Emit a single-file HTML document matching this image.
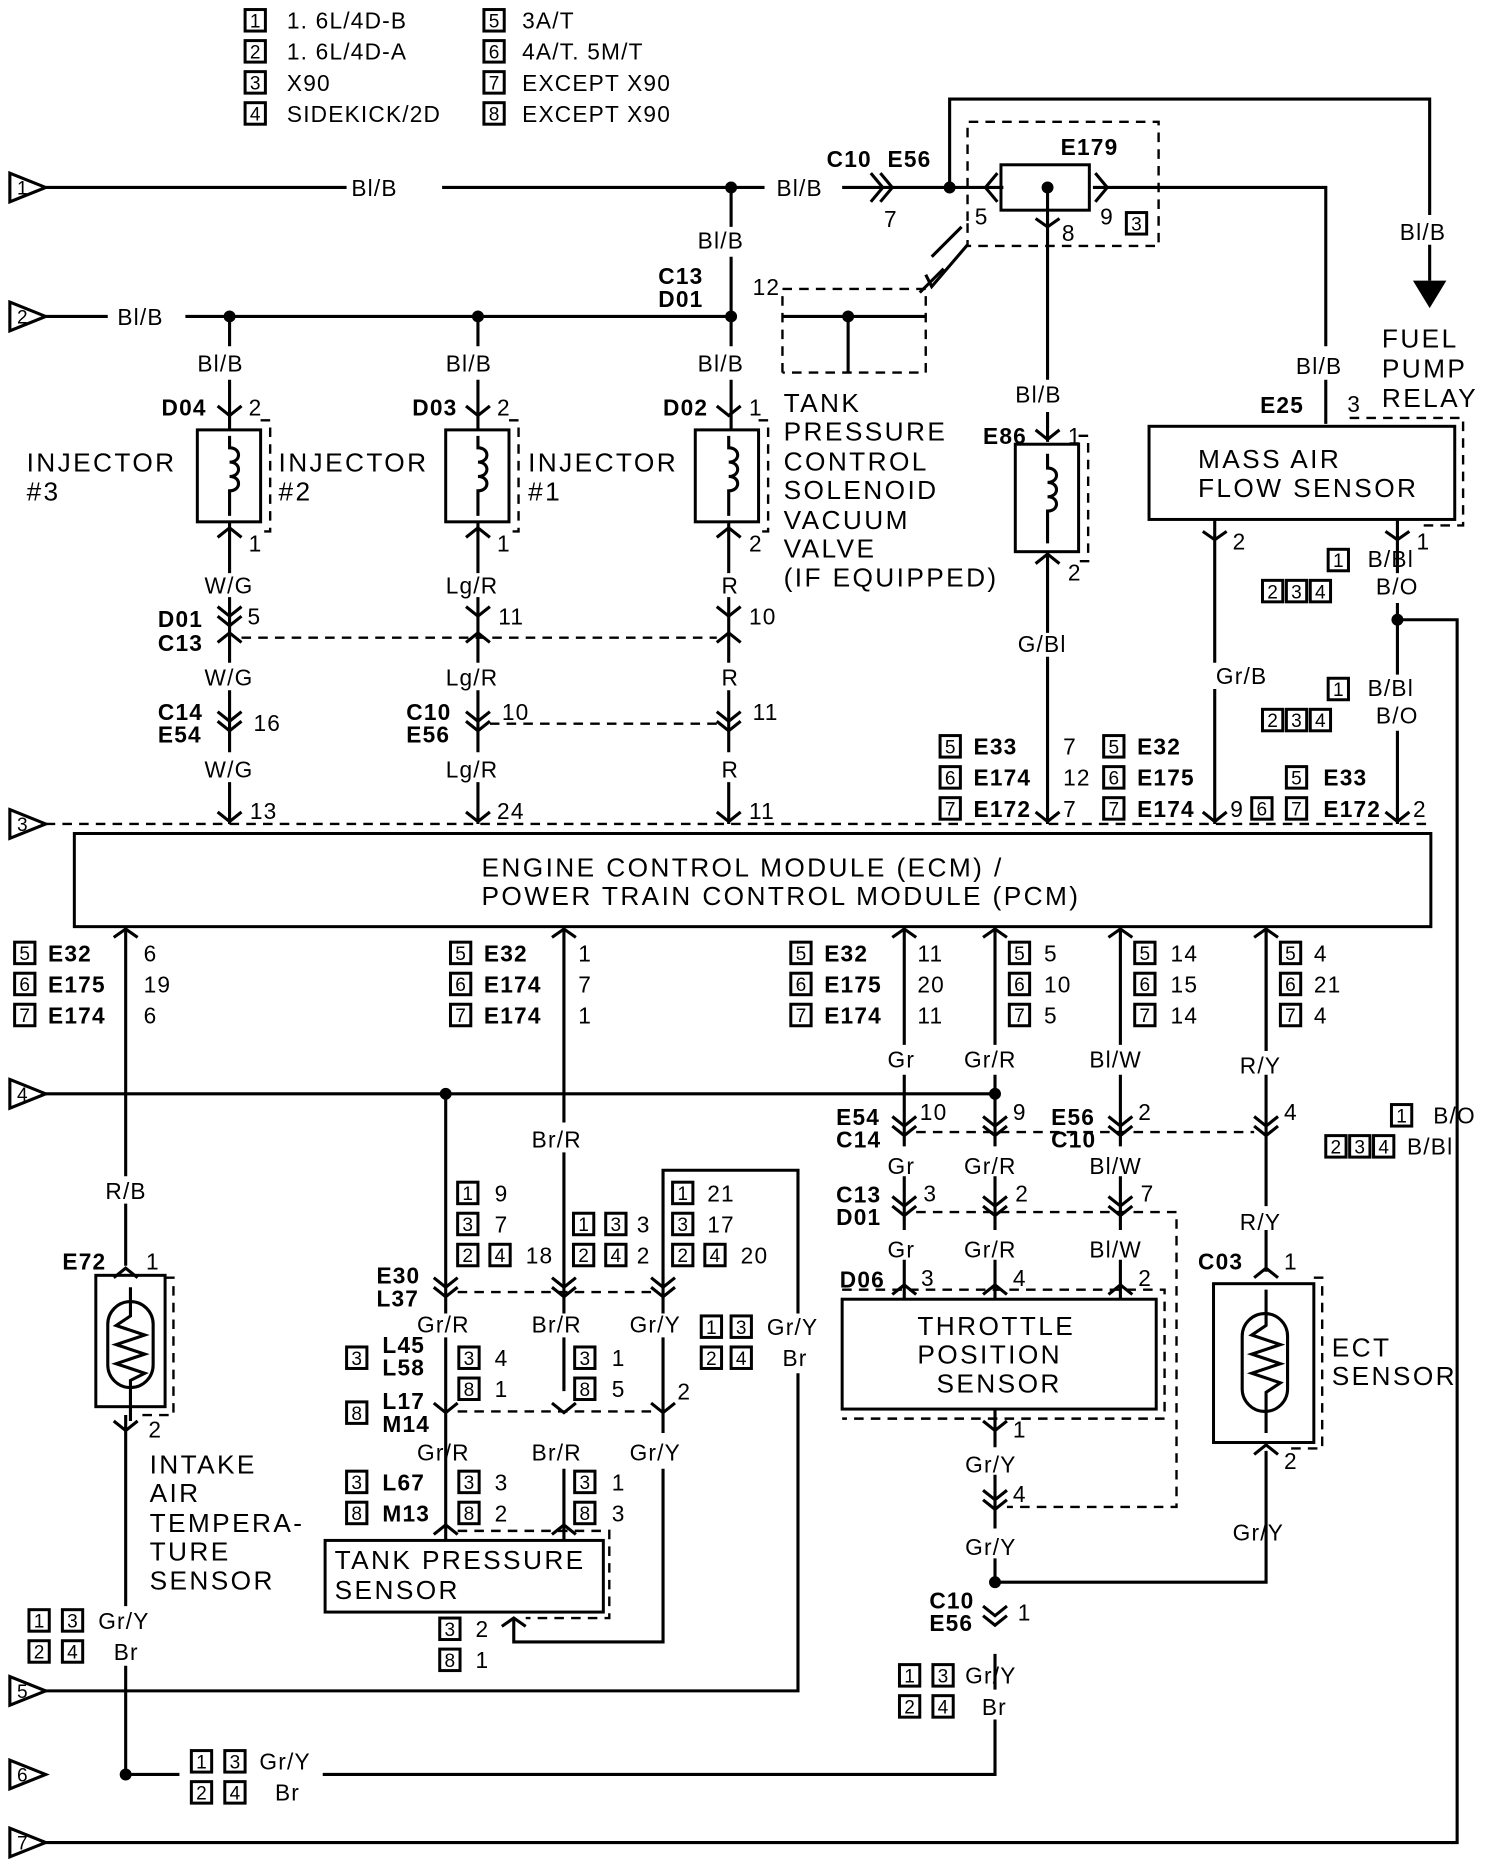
<!DOCTYPE html>
<html><head><meta charset="utf-8"><style>
html,body{margin:0;padding:0;background:#fff}
svg{display:block}
text{font-family:"Liberation Sans",sans-serif;font-size:19px;fill:#000;letter-spacing:1px}
.b{font-weight:bold;letter-spacing:0}
.l{font-size:22px;letter-spacing:2px}
.w{stroke:#000;stroke-width:2.6;fill:none}
.d{stroke:#000;stroke-width:2;fill:none;stroke-dasharray:8 6}
.bx{stroke:#000;stroke-width:2.5;fill:none}
.n{font-size:16px;letter-spacing:0}
</style></head><body>
<svg width="1504" height="1870" viewBox="0 0 1259 1566" xmlns="http://www.w3.org/2000/svg">
<!-- legend -->
<g>
<rect class="bx" x="205" y="8" width="17" height="18"/><text x="209" y="23" class="n">1</text><text x="240" y="24">1. 6L/4D-B</text>
<rect class="bx" x="205" y="34" width="17" height="18"/><text x="209" y="49" class="n">2</text><text x="240" y="50">1. 6L/4D-A</text>
<rect class="bx" x="205" y="60" width="17" height="18"/><text x="209" y="75" class="n">3</text><text x="240" y="76">X90</text>
<rect class="bx" x="205" y="86" width="17" height="18"/><text x="209" y="101" class="n">4</text><text x="240" y="102">SIDEKICK/2D</text>
<rect class="bx" x="405" y="8" width="17" height="18"/><text x="409" y="23" class="n">5</text><text x="437" y="24">3A/T</text>
<rect class="bx" x="405" y="34" width="17" height="18"/><text x="409" y="49" class="n">6</text><text x="437" y="50">4A/T. 5M/T</text>
<rect class="bx" x="405" y="60" width="17" height="18"/><text x="409" y="75" class="n">7</text><text x="437" y="76">EXCEPT X90</text>
<rect class="bx" x="405" y="86" width="17" height="18"/><text x="409" y="101" class="n">8</text><text x="437" y="102">EXCEPT X90</text>
</g>
<!-- triangles -->
<g class="w">
<path d="M8 145 L38 157 L8 169 Z"/><path d="M8 253 L38 265 L8 277 Z"/><path d="M8 678 L38 690 L8 702 Z"/><path d="M8 904 L38 916 L8 928 Z"/><path d="M8 1404 L38 1416 L8 1428 Z"/><path d="M8 1474 L38 1486 L8 1498 Z"/><path d="M8 1531 L38 1543 L8 1555 Z"/>
</g>
<g font-size="16"><text x="14" y="163" class="n">1</text><text x="14" y="271" class="n">2</text><text x="14" y="696" class="n">3</text><text x="14" y="922" class="n">4</text><text x="14" y="1422" class="n">5</text><text x="14" y="1492" class="n">6</text><text x="14" y="1549" class="n">7</text></g>
<!-- wires top -->
<g class="w">
<path d="M38 157 H290 M370 157 H640 M705 157 H840 M915 157 H1110 V290 M1110 318 V355"/>
<path d="M795 157 V83 H1197 V180 M1197 205 V235"/>
<path d="M38 265 H90 M155 265 H612"/>
<path d="M612 157 V190 M612 215 V290 M612 318 V360"/>
<path d="M192 265 V290 M192 318 V360 M400 265 V290 M400 318 V360"/>
<path d="M192 437 V480 M192 500 V555 M192 578 V630 M192 655 V690"/>
<path d="M400 437 V480 M400 500 V555 M400 578 V630 M400 655 V690"/>
<path d="M610 437 V480 M610 500 V555 M610 578 V630 M610 655 V690"/>
<path d="M877 157 V318 M877 345 V370 M877 462 V530 M877 550 V690"/>
<path d="M1017 435 V555 M1017 577 V690"/>
<path d="M1170 435 V480 M1170 505 V565 M1170 612 V690 M1170 519 H1220 V1543 H38"/>
<path d="M710 265 V312 M655 265 H775"/>
</g>
<path d="M1183 235 H1211 L1197 258 Z" fill="#000"/>
<g fill="#000"><circle cx="612" cy="157" r="5"/><circle cx="795" cy="157" r="5"/><circle cx="877" cy="157" r="5"/><circle cx="192" cy="265" r="5"/><circle cx="400" cy="265" r="5"/><circle cx="612" cy="265" r="5"/><circle cx="710" cy="265" r="5"/><circle cx="1170" cy="519" r="5"/><circle cx="373" cy="916" r="5"/><circle cx="833" cy="916" r="5"/><circle cx="833" cy="1325" r="5"/><circle cx="105" cy="1486" r="5"/></g>
<!-- E179 -->
<rect class="bx" x="838" y="138" width="74" height="38"/>
<path class="d" d="M810 185 V102 H970 V206 H810 V185"/>
<path class="d" d="M655 312 V242 H775 V312 H655"/>
<path class="w" d="M805 190 L780 215 M790 225 L770 245 M775 230 L780 240 L810 205"/>
<path class="w" d="M737 145 L747 157 L737 169 M729 145 L739 157 L729 169 M835 145 L825 157 L835 169 M917 145 L927 157 L917 169 M867 183 L877 190 L887 183"/>
<rect class="bx" x="943" y="178" width="17" height="18"/><text x="947" y="193" class="n">3</text>
<g class="b"><text x="692" y="140">C10</text><text x="743" y="140">E56</text><text x="888" y="130">E179</text>
<text x="551" y="238">C13</text><text x="551" y="257">D01</text><text x="135" y="348">D04</text><text x="345" y="348">D03</text><text x="555" y="348">D02</text><text x="823" y="372">E86</text><text x="1055" y="346">E25</text>
<text x="132" y="525">D01</text><text x="132" y="545">C13</text><text x="132" y="603">C14</text><text x="132" y="622">E54</text><text x="340" y="603">C10</text><text x="340" y="622">E56</text></g>
<text x="294" y="164">Bl/B</text><text x="650" y="164">Bl/B</text><text x="740" y="190">7</text><text x="816" y="188">5</text><text x="889" y="202">8</text><text x="921" y="188">9</text>
<text x="584" y="208">Bl/B</text><text x="630" y="247">12</text><text x="98" y="272">Bl/B</text>
<text x="165" y="311">Bl/B</text><text x="373" y="311">Bl/B</text><text x="584" y="311">Bl/B</text><text x="850" y="337">Bl/B</text><text x="1085" y="313">Bl/B</text><text x="1172" y="201">Bl/B</text>
<text x="1157" y="291" class="l">FUEL</text><text x="1157" y="316" class="l">PUMP</text><text x="1157" y="341" class="l">RELAY</text>
<!-- injectors -->
<g class="w"><path d="M182 340 L192 348 L202 340 M182 450 L192 442 L202 450 M390 340 L400 348 L410 340 M390 450 L400 442 L410 450 M600 340 L610 348 L620 340 M600 450 L610 442 L620 450 M867 360 L877 368 L887 360 M867 472 L877 464 L887 472"/></g>
<rect class="bx" x="165" y="360" width="53" height="77"/><rect class="bx" x="373" y="360" width="53" height="77"/><rect class="bx" x="582" y="360" width="53" height="77"/><rect class="bx" x="850" y="372" width="53" height="90"/>
<path class="d" d="M218 352 H226 V445 H218 M426 352 H434 V445 H426 M635 352 H643 V445 H635 M903 365 H911 V470 H903"/>
<g class="w"><path d="M192 365 V375 c10 0 10 12 0 12 c10 0 10 12 0 12 c10 0 10 12 0 12 V432"/><path d="M400 365 V375 c10 0 10 12 0 12 c10 0 10 12 0 12 c10 0 10 12 0 12 V432"/><path d="M610 365 V375 c10 0 10 12 0 12 c10 0 10 12 0 12 c10 0 10 12 0 12 V432"/><path d="M877 380 V392 c10 0 10 12 0 12 c10 0 10 12 0 12 c10 0 10 12 0 12 V455"/></g>
<text x="208" y="348">2</text><text x="416" y="348">2</text><text x="627" y="348">1</text><text x="894" y="372">1</text>
<text x="208" y="462">1</text><text x="416" y="462">1</text><text x="627" y="462">2</text><text x="894" y="486">2</text>
<text x="22" y="395" class="l">INJECTOR</text><text x="22" y="419" class="l">#3</text><text x="233" y="395" class="l">INJECTOR</text><text x="233" y="419" class="l">#2</text><text x="442" y="395" class="l">INJECTOR</text><text x="442" y="419" class="l">#1</text>
<text x="656" y="345" class="l">TANK</text><text x="656" y="369" class="l">PRESSURE</text><text x="656" y="394" class="l">CONTROL</text><text x="656" y="418" class="l">SOLENOID</text><text x="656" y="443" class="l">VACUUM</text><text x="656" y="467" class="l">VALVE</text><text x="656" y="491" class="l">(IF EQUIPPED)</text>
<!-- MAF -->
<rect class="bx" x="962" y="357" width="256" height="78"/>
<path class="d" d="M1130 350 H1225 V440 H1190"/>
<text x="1003" y="392" class="l">MASS AIR</text><text x="1003" y="416" class="l">FLOW SENSOR</text>
<text x="1128" y="345">3</text><text x="1032" y="460">2</text><text x="1186" y="460">1</text>
<path class="w" d="M1007 445 L1017 452 L1027 445 M1160 445 L1170 452 L1180 445"/>
<rect class="bx" x="1112" y="460" width="17" height="18"/><text x="1116" y="475" class="n">1</text><text x="1145" y="475">B/Bl</text>
<rect class="bx" x="1057" y="486" width="17" height="18"/><rect class="bx" x="1077" y="486" width="17" height="18"/><rect class="bx" x="1097" y="486" width="17" height="18"/><text x="1061" y="501" class="n">2</text><text x="1081" y="501" class="n">3</text><text x="1101" y="501" class="n">4</text><text x="1152" y="498">B/O</text>
<rect class="bx" x="1112" y="568" width="17" height="18"/><text x="1116" y="583" class="n">1</text><text x="1145" y="583">B/Bl</text>
<rect class="bx" x="1057" y="594" width="17" height="18"/><rect class="bx" x="1077" y="594" width="17" height="18"/><rect class="bx" x="1097" y="594" width="17" height="18"/><text x="1061" y="609" class="n">2</text><text x="1081" y="609" class="n">3</text><text x="1101" y="609" class="n">4</text><text x="1152" y="606">B/O</text>
<text x="1018" y="573">Gr/B</text>
<!-- connectors mid -->
<g class="w"><path d="M182 508 L192 516 L202 508 M182 516 L192 524 L202 516 M182 538 L192 530 L202 538 M390 508 L400 516 L410 508 M390 538 L400 530 L410 538 M600 508 L610 516 L620 508 M600 538 L610 530 L620 538 M182 596 L192 604 L202 596 M182 604 L192 612 L202 604 M390 596 L400 604 L410 596 M390 604 L400 612 L410 604 M600 596 L610 604 L620 596 M600 604 L610 612 L620 604 M182 680 L192 688 L202 680 M390 680 L400 688 L410 680 M600 680 L610 688 L620 680 M867 680 L877 688 L887 680 M1007 680 L1017 688 L1027 680 M1160 680 L1170 688 L1180 680"/></g>
<path class="d" d="M202 534 H600 M410 606 H600"/>
<text x="171" y="497">W/G</text><text x="373" y="497">Lg/R</text><text x="604" y="497">R</text><text x="207" y="523">5</text><text x="417" y="523">11</text><text x="627" y="523">10</text><text x="852" y="546">G/Bl</text>
<text x="171" y="574">W/G</text><text x="373" y="574">Lg/R</text><text x="604" y="574">R</text><text x="212" y="612">16</text><text x="420" y="603">10</text><text x="630" y="603">11</text>
<text x="171" y="651">W/G</text><text x="373" y="651">Lg/R</text><text x="604" y="651">R</text><text x="209" y="686">13</text><text x="416" y="686">24</text><text x="627" y="686">11</text>
<path class="d" d="M38 690 H1200"/>
<!-- ECM pin labels top -->
<g class="b"><text x="815" y="632">E33</text><text x="815" y="658">E174</text><text x="815" y="684">E172</text><text x="952" y="632">E32</text><text x="952" y="658">E175</text><text x="952" y="684">E174</text><text x="1108" y="658">E33</text><text x="1108" y="684">E172</text></g>
<rect class="bx" x="787" y="616" width="17" height="18"/><text x="791" y="631" class="n">5</text><rect class="bx" x="787" y="642" width="17" height="18"/><text x="791" y="657" class="n">6</text><rect class="bx" x="787" y="668" width="17" height="18"/><text x="791" y="683" class="n">7</text>
<rect class="bx" x="924" y="616" width="17" height="18"/><text x="928" y="631" class="n">5</text><rect class="bx" x="924" y="642" width="17" height="18"/><text x="928" y="657" class="n">6</text><rect class="bx" x="924" y="668" width="17" height="18"/><text x="928" y="683" class="n">7</text>
<rect class="bx" x="1077" y="642" width="17" height="18"/><text x="1081" y="657" class="n">5</text><rect class="bx" x="1048" y="668" width="17" height="18"/><text x="1052" y="683" class="n">6</text><rect class="bx" x="1077" y="668" width="17" height="18"/><text x="1081" y="683" class="n">7</text>
<text x="890" y="632">7</text><text x="890" y="658">12</text><text x="890" y="684">7</text><text x="1030" y="684">9</text><text x="1183" y="684">2</text>
<!-- ECM -->
<rect class="bx" x="62" y="698" width="1136" height="78"/>
<text x="403" y="734" class="l">ENGINE CONTROL MODULE (ECM) /</text><text x="403" y="758" class="l">POWER TRAIN CONTROL MODULE (PCM)</text>
<!-- bottom wires -->
<g class="w">
<path d="M105 776 V985 M105 1008 V1060 M105 1185 V1345 M105 1395 V1486 H150 M270 1486 H833 V1440 M833 1415 V1385 M833 1325 V1305 M833 1280 V1235 M833 1212 V1180"/>
<path d="M833 1325 H1060 V1215 M1060 1065 V1030 M1060 1010 V900 M1060 776 V880"/>
<path d="M38 916 H833"/>
<path d="M472 776 V940 M472 965 V1100 M472 1120 V1165 M472 1230 V1290"/>
<path d="M373 916 V1100 M373 1120 V1290"/>
<path d="M555 1100 V980 H668 V1100 M668 1150 V1416 H38"/>
<path d="M555 1120 V1200 M555 1230 V1375 H430 V1355"/>
<path d="M757 776 V875 M757 900 V960 M757 985 V1030 M757 1055 V1088"/>
<path d="M833 776 V875 M833 900 V960 M833 985 V1030 M833 1055 V1088"/>
<path d="M938 776 V875 M938 900 V960 M938 985 V1030 M938 1055 V1088"/>
<path d="M1060 776 V880"/>
</g>
<g class="w"><path d="M95 785 L105 778 L115 785 M462 785 L472 778 L482 785 M747 785 L757 778 L767 785 M823 785 L833 778 L843 785 M928 785 L938 778 L948 785 M1050 785 L1060 778 L1070 785
M747 935 L757 943 L767 935 M747 943 L757 951 L767 943 M823 935 L833 943 L843 935 M823 943 L833 951 L843 943 M928 935 L938 943 L948 935 M928 943 L938 951 L948 943 M1050 935 L1060 943 L1070 935 M1050 943 L1060 951 L1070 943
M747 1002 L757 1010 L767 1002 M747 1010 L757 1018 L767 1010 M823 1002 L833 1010 L843 1002 M823 1010 L833 1018 L843 1010 M928 1002 L938 1010 L948 1002 M928 1010 L938 1018 L948 1010
M747 1084 L757 1076 L767 1084 M823 1084 L833 1076 L843 1084 M928 1084 L938 1076 L948 1084
M823 1190 L833 1198 L843 1190 M823 1248 L833 1256 L843 1248 M823 1256 L833 1264 L843 1256 M823 1345 L833 1353 L843 1345 M823 1353 L833 1361 L843 1353
M95 1070 L105 1062 L115 1070 M95 1190 L105 1198 L115 1190 M1050 1070 L1060 1062 L1070 1070 M1050 1218 L1060 1210 L1070 1218
M363 1070 L373 1078 L383 1070 M363 1078 L373 1086 L383 1078 M462 1070 L472 1078 L482 1070 M462 1078 L472 1086 L482 1078 M545 1070 L555 1078 L565 1070 M545 1078 L555 1086 L565 1078
M363 1175 L373 1183 L383 1175 M462 1175 L472 1183 L482 1175 M545 1175 L555 1183 L565 1175
M363 1285 L373 1277 L383 1285 M462 1285 L472 1277 L482 1285 M420 1362 L430 1355 L440 1362"/></g>
<path class="d" d="M767 948 H1050 M767 1015 H985 V1262 H843 M383 1082 H545 M383 1182 H545 M383 1282 H510 V1355 H440"/>
<!-- bottom pin labels -->
<g class="b"><text x="40" y="805">E32</text><text x="40" y="831">E175</text><text x="40" y="857">E174</text><text x="405" y="805">E32</text><text x="405" y="831">E174</text><text x="405" y="857">E174</text><text x="690" y="805">E32</text><text x="690" y="831">E175</text><text x="690" y="857">E174</text></g>
<rect class="bx" x="12" y="789" width="17" height="18"/><text x="16" y="804" class="n">5</text><rect class="bx" x="12" y="815" width="17" height="18"/><text x="16" y="830" class="n">6</text><rect class="bx" x="12" y="841" width="17" height="18"/><text x="16" y="856" class="n">7</text>
<rect class="bx" x="377" y="789" width="17" height="18"/><text x="381" y="804" class="n">5</text><rect class="bx" x="377" y="815" width="17" height="18"/><text x="381" y="830" class="n">6</text><rect class="bx" x="377" y="841" width="17" height="18"/><text x="381" y="856" class="n">7</text>
<rect class="bx" x="662" y="789" width="17" height="18"/><text x="666" y="804" class="n">5</text><rect class="bx" x="662" y="815" width="17" height="18"/><text x="666" y="830" class="n">6</text><rect class="bx" x="662" y="841" width="17" height="18"/><text x="666" y="856" class="n">7</text>
<rect class="bx" x="845" y="789" width="17" height="18"/><text x="849" y="804" class="n">5</text><rect class="bx" x="845" y="815" width="17" height="18"/><text x="849" y="830" class="n">6</text><rect class="bx" x="845" y="841" width="17" height="18"/><text x="849" y="856" class="n">7</text>
<rect class="bx" x="950" y="789" width="17" height="18"/><text x="954" y="804" class="n">5</text><rect class="bx" x="950" y="815" width="17" height="18"/><text x="954" y="830" class="n">6</text><rect class="bx" x="950" y="841" width="17" height="18"/><text x="954" y="856" class="n">7</text>
<rect class="bx" x="1072" y="789" width="17" height="18"/><text x="1076" y="804" class="n">5</text><rect class="bx" x="1072" y="815" width="17" height="18"/><text x="1076" y="830" class="n">6</text><rect class="bx" x="1072" y="841" width="17" height="18"/><text x="1076" y="856" class="n">7</text>
<text x="120" y="805">6</text><text x="120" y="831">19</text><text x="120" y="857">6</text><text x="484" y="805">1</text><text x="484" y="831">7</text><text x="484" y="857">1</text>
<text x="768" y="805">11</text><text x="768" y="831">20</text><text x="768" y="857">11</text><text x="874" y="805">5</text><text x="874" y="831">10</text><text x="874" y="857">5</text>
<text x="980" y="805">14</text><text x="980" y="831">15</text><text x="980" y="857">14</text><text x="1100" y="805">4</text><text x="1100" y="831">21</text><text x="1100" y="857">4</text>
<text x="743" y="894">Gr</text><text x="807" y="894">Gr/R</text><text x="912" y="894">Bl/W</text><text x="1038" y="899">R/Y</text>
<g class="b"><text x="700" y="942">E54</text><text x="700" y="961">C14</text><text x="880" y="942">E56</text><text x="880" y="961">C10</text><text x="700" y="1007">C13</text><text x="700" y="1026">D01</text><text x="703" y="1078">D06</text><text x="1003" y="1063">C03</text><text x="52" y="1063">E72</text>
<text x="315" y="1075">E30</text><text x="315" y="1094">L37</text><text x="320" y="1133">L45</text><text x="320" y="1152">L58</text><text x="320" y="1180">L17</text><text x="320" y="1199">M14</text><text x="320" y="1248">L67</text><text x="320" y="1274">M13</text>
<text x="778" y="1347">C10</text><text x="778" y="1366">E56</text></g>
<text x="770" y="938">10</text><text x="848" y="938">9</text><text x="953" y="938">2</text><text x="1075" y="938">4</text>
<text x="743" y="983">Gr</text><text x="807" y="983">Gr/R</text><text x="912" y="983">Bl/W</text><text x="1038" y="1030">R/Y</text>
<text x="773" y="1006">3</text><text x="850" y="1006">2</text><text x="955" y="1006">7</text>
<text x="743" y="1053">Gr</text><text x="807" y="1053">Gr/R</text><text x="912" y="1053">Bl/W</text>
<text x="771" y="1077">3</text><text x="848" y="1077">4</text><text x="953" y="1077">2</text><text x="1075" y="1063">1</text><text x="122" y="1063">1</text>
<rect class="bx" x="705" y="1088" width="263" height="92"/><path class="d" d="M705 1080 H975 V1188 H705"/>
<text x="768" y="1118" class="l">THROTTLE</text><text x="768" y="1142" class="l">POSITION</text><text x="784" y="1166" class="l">SENSOR</text>
<text x="848" y="1204">1</text><text x="808" y="1233">Gr/Y</text><text x="848" y="1258">4</text><text x="808" y="1302">Gr/Y</text><text x="852" y="1357">1</text>
<rect class="bx" x="1016" y="1075" width="84" height="133"/><path class="d" d="M1100 1070 H1107 V1213 H1075"/>
<rect x="1040" y="1100" width="38" height="82" rx="19" class="w"/><path class="w" d="M1060 1080 V1110 L1048 1118 L1072 1126 L1048 1134 L1072 1142 L1048 1150 L1072 1158 L1060 1166 V1200"/>
<text x="1115" y="1136" class="l">ECT</text><text x="1115" y="1160" class="l">SENSOR</text><text x="1075" y="1230">2</text><text x="1032" y="1290">Gr/Y</text>
<rect class="bx" x="80" y="1068" width="58" height="110"/><path class="d" d="M138 1070 H145 V1185 H115"/>
<rect x="90" y="1090" width="38" height="72" rx="19" class="w"/><path class="w" d="M109 1078 V1102 L97 1110 L121 1118 L97 1126 L121 1134 L97 1142 L121 1150 L109 1156 V1190"/>
<text x="124" y="1204">2</text><text x="88" y="1004">R/B</text><text x="445" y="961">Br/R</text>
<text x="125" y="1234" class="l">INTAKE</text><text x="125" y="1258" class="l">AIR</text><text x="125" y="1283" class="l">TEMPERA-</text><text x="125" y="1307" class="l">TURE</text><text x="125" y="1331" class="l">SENSOR</text>
<!-- tank pressure area labels -->
<rect class="bx" x="383" y="990" width="17" height="18"/><text x="387" y="1005" class="n">1</text><text x="414" y="1006">9</text>
<rect class="bx" x="383" y="1016" width="17" height="18"/><text x="387" y="1031" class="n">3</text><text x="414" y="1032">7</text>
<rect class="bx" x="383" y="1042" width="17" height="18"/><text x="387" y="1057" class="n">2</text><rect class="bx" x="410" y="1042" width="17" height="18"/><text x="414" y="1057" class="n">4</text><text x="440" y="1058">18</text>
<rect class="bx" x="480" y="1016" width="17" height="18"/><text x="484" y="1031" class="n">1</text><rect class="bx" x="507" y="1016" width="17" height="18"/><text x="511" y="1031" class="n">3</text><text x="533" y="1032">3</text>
<rect class="bx" x="480" y="1042" width="17" height="18"/><text x="484" y="1057" class="n">2</text><rect class="bx" x="507" y="1042" width="17" height="18"/><text x="511" y="1057" class="n">4</text><text x="533" y="1058">2</text>
<rect class="bx" x="563" y="990" width="17" height="18"/><text x="567" y="1005" class="n">1</text><text x="592" y="1006">21</text>
<rect class="bx" x="563" y="1016" width="17" height="18"/><text x="567" y="1031" class="n">3</text><text x="592" y="1032">17</text>
<rect class="bx" x="563" y="1042" width="17" height="18"/><text x="567" y="1057" class="n">2</text><rect class="bx" x="590" y="1042" width="17" height="18"/><text x="594" y="1057" class="n">4</text><text x="620" y="1058">20</text>
<text x="349" y="1116">Gr/R</text><text x="445" y="1116">Br/R</text><text x="527" y="1116">Gr/Y</text>
<rect class="bx" x="587" y="1102" width="17" height="18"/><text x="591" y="1117" class="n">1</text><rect class="bx" x="612" y="1102" width="17" height="18"/><text x="616" y="1117" class="n">3</text><text x="642" y="1118">Gr/Y</text>
<rect class="bx" x="587" y="1128" width="17" height="18"/><text x="591" y="1143" class="n">2</text><rect class="bx" x="612" y="1128" width="17" height="18"/><text x="616" y="1143" class="n">4</text><text x="655" y="1144">Br</text>
<rect class="bx" x="290" y="1128" width="17" height="18"/><text x="294" y="1143" class="n">3</text>
<rect class="bx" x="384" y="1128" width="17" height="18"/><text x="388" y="1143" class="n">3</text><text x="414" y="1144">4</text>
<rect class="bx" x="384" y="1154" width="17" height="18"/><text x="388" y="1169" class="n">8</text><text x="414" y="1170">1</text>
<rect class="bx" x="481" y="1128" width="17" height="18"/><text x="485" y="1143" class="n">3</text><text x="512" y="1144">1</text>
<rect class="bx" x="481" y="1154" width="17" height="18"/><text x="485" y="1169" class="n">8</text><text x="512" y="1170">5</text>
<text x="567" y="1172">2</text>
<rect class="bx" x="290" y="1174" width="17" height="18"/><text x="294" y="1189" class="n">8</text>
<text x="349" y="1223">Gr/R</text><text x="445" y="1223">Br/R</text><text x="527" y="1223">Gr/Y</text>
<rect class="bx" x="290" y="1232" width="17" height="18"/><text x="294" y="1247" class="n">3</text><rect class="bx" x="290" y="1258" width="17" height="18"/><text x="294" y="1273" class="n">8</text>
<rect class="bx" x="384" y="1232" width="17" height="18"/><text x="388" y="1247" class="n">3</text><text x="414" y="1248">3</text>
<rect class="bx" x="384" y="1258" width="17" height="18"/><text x="388" y="1273" class="n">8</text><text x="414" y="1274">2</text>
<rect class="bx" x="481" y="1232" width="17" height="18"/><text x="485" y="1247" class="n">3</text><text x="512" y="1248">1</text>
<rect class="bx" x="481" y="1258" width="17" height="18"/><text x="485" y="1273" class="n">8</text><text x="512" y="1274">3</text>
<rect class="bx" x="272" y="1290" width="233" height="60"/>
<text x="280" y="1314" class="l">TANK PRESSURE</text><text x="280" y="1339" class="l">SENSOR</text>
<rect class="bx" x="368" y="1355" width="17" height="18"/><text x="372" y="1370" class="n">3</text><text x="398" y="1371">2</text>
<rect class="bx" x="368" y="1381" width="17" height="18"/><text x="372" y="1396" class="n">8</text><text x="398" y="1397">1</text>
<!-- bottom left / right notes -->
<rect class="bx" x="24" y="1348" width="17" height="18"/><text x="28" y="1363" class="n">1</text><rect class="bx" x="52" y="1348" width="17" height="18"/><text x="56" y="1363" class="n">3</text><text x="82" y="1364">Gr/Y</text>
<rect class="bx" x="24" y="1374" width="17" height="18"/><text x="28" y="1389" class="n">2</text><rect class="bx" x="52" y="1374" width="17" height="18"/><text x="56" y="1389" class="n">4</text><text x="95" y="1390">Br</text>
<rect class="bx" x="160" y="1466" width="17" height="18"/><text x="164" y="1481" class="n">1</text><rect class="bx" x="188" y="1466" width="17" height="18"/><text x="192" y="1481" class="n">3</text><text x="217" y="1482">Gr/Y</text>
<rect class="bx" x="160" y="1492" width="17" height="18"/><text x="164" y="1507" class="n">2</text><rect class="bx" x="188" y="1492" width="17" height="18"/><text x="192" y="1507" class="n">4</text><text x="230" y="1508">Br</text>
<rect class="bx" x="753" y="1394" width="17" height="18"/><text x="757" y="1409" class="n">1</text><rect class="bx" x="781" y="1394" width="17" height="18"/><text x="785" y="1409" class="n">3</text><text x="808" y="1410">Gr/Y</text>
<rect class="bx" x="753" y="1420" width="17" height="18"/><text x="757" y="1435" class="n">2</text><rect class="bx" x="781" y="1420" width="17" height="18"/><text x="785" y="1435" class="n">4</text><text x="822" y="1436">Br</text>
<rect class="bx" x="1165" y="925" width="17" height="18"/><text x="1169" y="940" class="n">1</text><text x="1200" y="941">B/O</text>
<rect class="bx" x="1110" y="951" width="17" height="18"/><rect class="bx" x="1130" y="951" width="17" height="18"/><rect class="bx" x="1150" y="951" width="17" height="18"/><text x="1114" y="966" class="n">2</text><text x="1134" y="966" class="n">3</text><text x="1154" y="966" class="n">4</text><text x="1178" y="967">B/Bl</text>
</svg>
</body></html>
